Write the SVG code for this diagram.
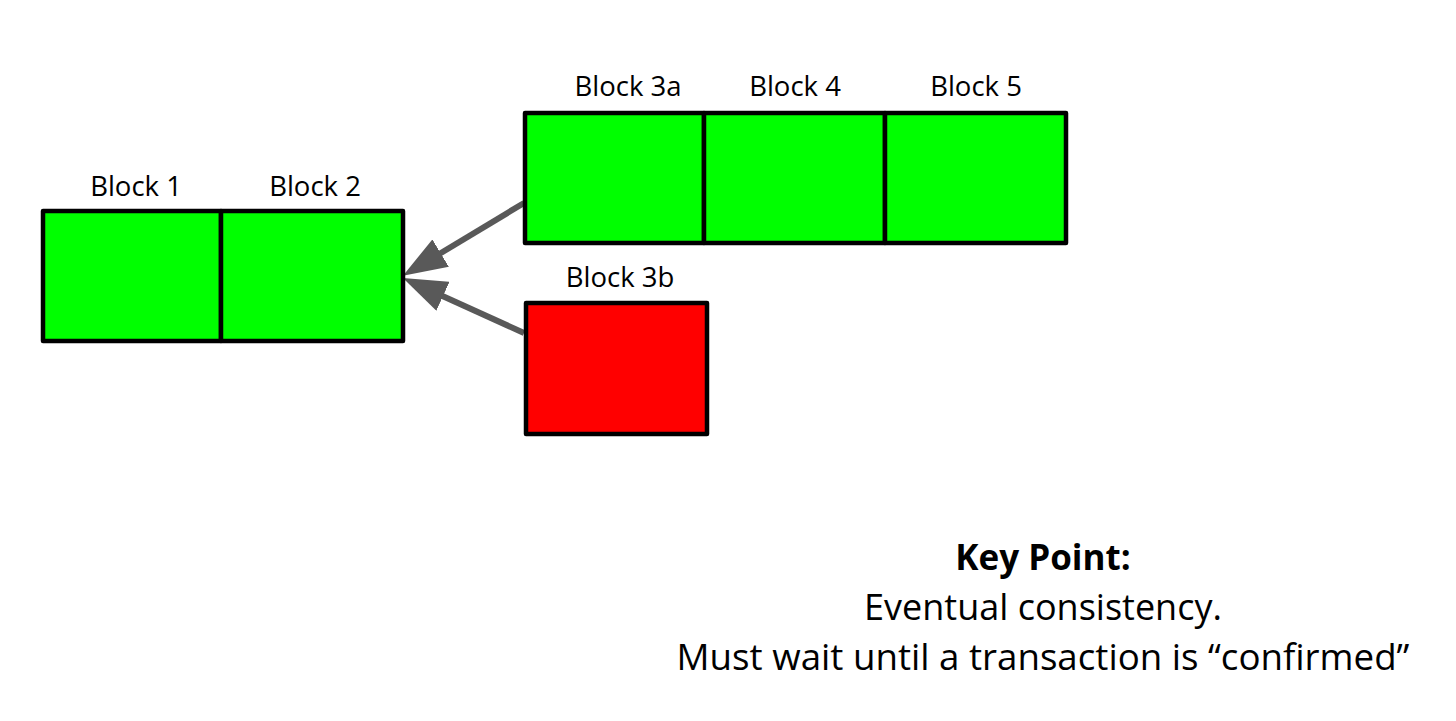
<svg xmlns="http://www.w3.org/2000/svg" width="1456" height="721" viewBox="0 0 1456 721">
<style>
.blk{stroke:#000;stroke-width:4.5;stroke-linejoin:round}
.g{fill:#00ff00}
.r{fill:#ff0000}
.lbl{font-family:"Open Sans","Liberation Sans",sans-serif;font-size:27.5px;fill:#000;text-anchor:middle}
.note{font-family:"Open Sans","Liberation Sans",sans-serif;font-size:36px;fill:#000;text-anchor:middle}
.bold{font-weight:bold;font-size:35px}
.wide{font-size:36.7px}
.conn{stroke:#595959;stroke-width:6;fill:none}
</style>
<defs>
<marker id="head" markerUnits="userSpaceOnUse" viewBox="0 0 44 32" refX="6" refY="16" markerWidth="44" markerHeight="32" orient="auto">
<path d="M0,0 L44,16 L0,32 z" fill="#595959"/>
</marker>
</defs>
<rect width="1456" height="721" fill="#fff"/>
<g id="connectors">
<line class="conn" x1="524" y1="203" x2="435.5" y2="256.2" marker-end="url(#head)"/>
<line class="conn" x1="524" y1="333" x2="437.5" y2="293.8" marker-end="url(#head)"/>
</g>
<g id="block1">
<rect class="blk g" x="43" y="211" width="178" height="130"/>
<text class="lbl" x="136" y="196">Block 1</text>
</g>
<g id="block2">
<rect class="blk g" x="221" y="211" width="182" height="130"/>
<text class="lbl" x="315" y="196">Block 2</text>
</g>
<g id="block3a">
<rect class="blk g" x="525" y="113" width="179" height="130"/>
<text class="lbl" x="628" y="96">Block 3a</text>
</g>
<g id="block4">
<rect class="blk g" x="704" y="113" width="181" height="130"/>
<text class="lbl" x="795" y="96">Block 4</text>
</g>
<g id="block5">
<rect class="blk g" x="885" y="113" width="181" height="130"/>
<text class="lbl" x="976" y="96">Block 5</text>
</g>
<g id="block3b">
<rect class="blk r" x="526" y="303" width="181" height="131"/>
<text class="lbl" x="620" y="287">Block 3b</text>
</g>
<g id="keypoint">
<text class="note bold" x="1043" y="570">Key Point:</text>
<text class="note" x="1043" y="620">Eventual consistency.</text>
<text class="note wide" x="1043" y="670">Must wait until a transaction is “confirmed”</text>
</g>
</svg>
